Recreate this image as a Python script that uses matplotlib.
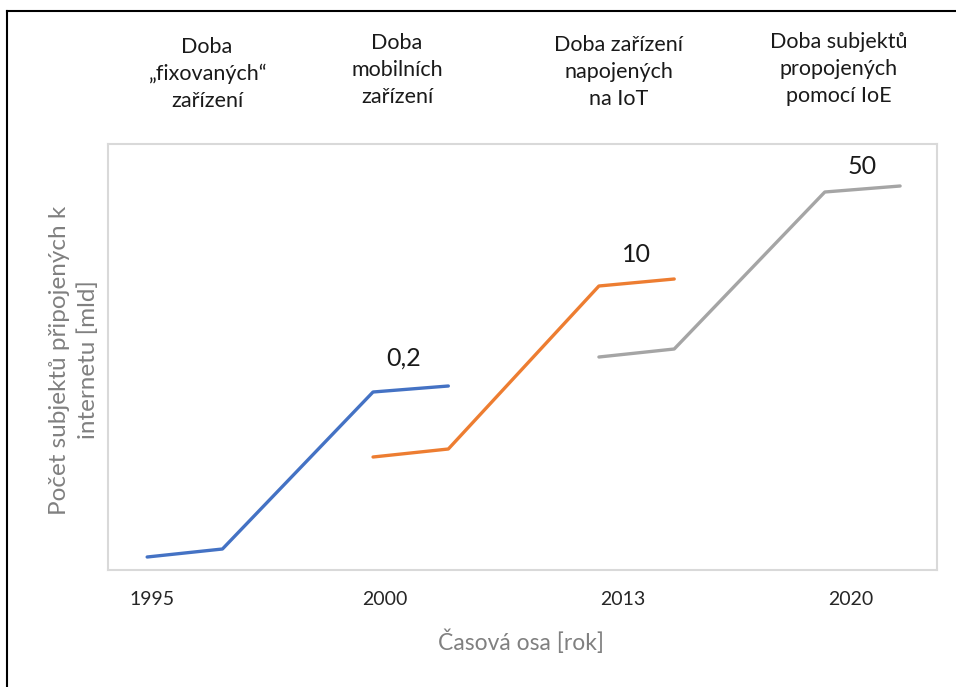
import matplotlib
matplotlib.use("Agg")
import matplotlib.pyplot as plt
from matplotlib.lines import Line2D

plt.rcParams['font.family'] = ['Lato', 'DejaVu Sans']

# Data (x in position units along the time axis, y in relative units)
blue_x = [0, 1, 3, 4]
blue_y = [13, 21, 178, 184]
orange_x = [3, 4, 6, 7]
orange_y = [113, 121, 284, 291]
gray_x = [6, 7, 9, 10]
gray_y = [213, 221, 378, 384]

tick_pos = [0.07, 3.15, 6.31, 9.34]
tick_labels = ["1995", "2000", "2013", "2020"]

value_labels = ["0,2", "10", "50"]
value_label_x = [3.4, 6.5, 9.5]
value_label_y = [212, 316, 403]

headers = ["Doba\n„fixovaných“\nzařízení",
           "Doba\nmobilních\nzařízení",
           "Doba zařízení\nnapojených\nna IoT",
           "Doba subjektů\npropojených\npomocí IoE"]
header_x = [207, 397, 619, 839]   # pixel centres
header_y = [74, 70, 72, 69]

W, H = 956, 687
fig = plt.figure(figsize=(W / 100, H / 100), dpi=100)
ax = fig.add_axes([108 / W, (H - 570) / H, (937 - 108) / W, (570 - 144) / H])

ax.plot(blue_x, blue_y, color='#4472C4', lw=2.4, solid_capstyle='round')
ax.plot(orange_x, orange_y, color='#ED7D31', lw=2.4, solid_capstyle='round')
ax.plot(gray_x, gray_y, color='#A5A5A5', lw=2.4, solid_capstyle='round')

ax.set_xlim(-0.52, 10.49)
ax.set_ylim(0, 426)
ax.set_yticks([])
ax.set_xticks(tick_pos)
ax.set_xticklabels(tick_labels, fontsize=14, color='#262626')
ax.tick_params(axis='x', length=0, pad=15)
for s in ax.spines.values():
    s.set_color('#D9D9D9')
    s.set_linewidth(1.5)

for t, x, y in zip(value_labels, value_label_x, value_label_y):
    ax.text(x, y, t, fontsize=18, ha='center', va='center', color='#1a1a1a')

for t, x, y in zip(headers, header_x, header_y):
    fig.text(x / W, 1 - y / H, t, fontsize=15.5, ha='center', va='center',
             color='#1a1a1a', linespacing=1.45)

fig.text(74 / W, 1 - 360 / H, "Počet subjektů připojených k\ninternetu [mld]",
         rotation=90, fontsize=17.5, ha='center', va='center', color='#808080',
         linespacing=1.4)
fig.text(521 / W, 1 - 642 / H, "Časová osa [rok]", fontsize=16.5,
         ha='center', va='center', color='#808080')

# outer frame (left and top edges visible)
fig.add_artist(Line2D([7 / W, 7 / W], [0, 1 - 11 / H], color='black', lw=1.5,
                      transform=fig.transFigure))
fig.add_artist(Line2D([7 / W, 1], [1 - 11 / H, 1 - 11 / H], color='black', lw=1.5,
                      transform=fig.transFigure))

fig.savefig("out.png", dpi=100)
